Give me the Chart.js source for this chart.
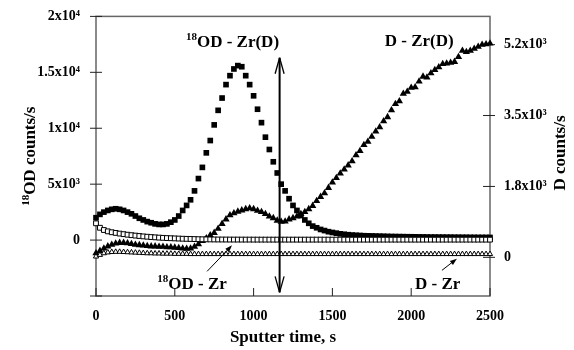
<!DOCTYPE html>
<html>
<head>
<meta charset="utf-8">
<script src="https://cdn.jsdelivr.net/npm/chart.js@4.4.1/dist/chart.umd.min.js"></script>
<style>
  body { margin: 0; background: #fff; }
  #wrap { width: 574px; height: 350px; }
</style>
</head>
<body>
<div id="wrap"><canvas id="chart"></canvas></div>
<script>
const FONT = '"Liberation Serif", "Times New Roman", serif';

// sputter time, s
const times = [
  0, 25, 50, 75, 100, 125, 150, 175, 200, 225,
  250, 275, 300, 325, 350, 375, 400, 425, 450, 475,
  500, 525, 550, 575, 600, 625, 650, 675, 700, 725,
  750, 775, 800, 825, 850, 875, 900, 925, 950, 975,
  1000, 1025, 1050, 1075, 1100, 1125, 1150, 1175, 1200, 1225,
  1250, 1275, 1300, 1325, 1350, 1375, 1400, 1425, 1450, 1475,
  1500, 1525, 1550, 1575, 1600, 1625, 1650, 1675, 1700, 1725,
  1750, 1775, 1800, 1825, 1850, 1875, 1900, 1925, 1950, 1975,
  2000, 2025, 2050, 2075, 2100, 2125, 2150, 2175, 2200, 2225,
  2250, 2275, 2300, 2325, 2350, 2375, 2400, 2425, 2450, 2475,
  2500
];

// 18OD - Zr(D), left axis (filled squares)
const odZrD = [
  2000, 2300, 2500, 2650, 2750, 2800, 2750, 2650, 2500, 2350,
  2150, 1950, 1800, 1650, 1550, 1450, 1400, 1400, 1450, 1600,
  1800, 2150, 2650, 3100, 3600, 4400, 5500, 6500, 7800, 8900,
  10300, 11600, 12700, 13900, 14700, 15300, 15600, 15500, 14700, 13900,
  12900, 11700, 10500, 9200, 8100, 7000, 6000, 5000, 4400, 3700,
  3100, 2650, 2200, 1800, 1500, 1250, 1100, 950, 850, 750,
  680, 620, 560, 520, 480, 450, 430, 410, 390, 380,
  370, 360, 350, 340, 330, 320, 315, 310, 305, 300,
  295, 290, 285, 280, 275, 270, 270, 265, 265, 260,
  260, 255, 255, 250, 250, 245, 245, 240, 240, 240,
  235
];

// 18OD - Zr, left axis (open squares)
const odZr = [
  1500, 1100, 900, 780, 700, 640, 580, 530, 480, 440,
  400, 365, 330, 300, 270, 245, 220, 200, 180, 165,
  150, 135, 120, 110, 100, 90, 80, 72, 65, 60,
  55, 52, 50, 48, 46, 45, 44, 43, 42, 42,
  40, 40, 40, 40, 40, 40, 40, 40, 40, 40,
  40, 40, 40, 40, 40, 40, 40, 40, 40, 40,
  40, 40, 40, 40, 40, 40, 40, 40, 40, 40,
  40, 40, 40, 40, 40, 40, 40, 40, 40, 40,
  40, 40, 40, 40, 40, 40, 40, 40, 40, 40,
  40, 40, 40, 40, 40, 40, 40, 40, 40, 40,
  40
];

// D - Zr(D), right axis (filled triangles)
const dZrD = [
  100, 160, 220, 270, 310, 340, 355, 355, 345, 330,
  310, 300, 290, 280, 270, 270, 260, 260, 250, 250,
  240, 230, 220, 210, 220, 260, 320, 400, 470, 540,
  600, 700, 820, 930, 1030, 1080, 1120, 1150, 1180, 1200,
  1180, 1140, 1110, 1060, 1000, 960, 900, 870, 880, 930,
  960, 1000, 1060, 1110, 1180, 1260, 1380, 1480, 1570, 1700,
  1830, 1940, 2050, 2150, 2250, 2350, 2500, 2600, 2750, 2830,
  2950, 3080, 3180, 3330, 3430, 3600, 3750, 3820, 4000, 4050,
  4150, 4160, 4300, 4420, 4400, 4500, 4580, 4650, 4730, 4740,
  4760, 4780, 4900, 5050, 5020, 5050, 5100, 5150, 5200, 5210,
  5230
];

// D - Zr, right axis (open triangles)
const dZr = [
  20, 60, 100, 120, 130, 135, 135, 130, 125, 120,
  115, 110, 105, 100, 100, 95, 95, 90, 90, 90,
  85, 85, 85, 85, 80, 80, 80, 80, 80, 80,
  80, 80, 80, 80, 80, 80, 80, 80, 80, 80,
  80, 80, 80, 80, 80, 80, 80, 80, 80, 80,
  80, 80, 80, 80, 80, 80, 80, 80, 80, 80,
  80, 80, 80, 80, 80, 80, 80, 80, 80, 80,
  80, 80, 80, 80, 80, 80, 80, 80, 80, 80,
  80, 80, 80, 80, 80, 80, 80, 80, 80, 80,
  80, 80, 80, 80, 80, 80, 80, 80, 80, 80,
  80
];

// tick labels
const leftTickValues = [0, 5000, 10000, 15000, 20000];
const leftTickLabels = ['0', '5x10³', '1x10⁴', '1.5x10⁴', '2x10⁴'];
const rightTickValues = [0, 1733.3, 3466.7, 5200];
const rightTickLabels = ['0', '1.8x10³', '3.5x10³', '5.2x10³'];

// annotations in data units (left axis for y)
const notes = {
  arrow: { x: 1165, top: 16300, bottom: -4670 },
  labels: [
    { sup: '18', text: 'OD - Zr(D)', x: 866, y: 17300 },
    { sup: '', text: 'D - Zr(D)', x: 2051, y: 17390 },
    { sup: '18', text: 'OD - Zr', x: 610, y: -4360 },
    { sup: '', text: 'D - Zr', x: 2168, y: -4360 }
  ],
  pointers: [
    { from: [705, -2795], to: [863, -473] },
    { from: [2195, -2706], to: [2290, -1661] }
  ]
};

const toPoints = ys => times.map((t, i) => ({ x: t, y: ys[i] }));
const tickFont = { family: FONT, size: 14, weight: 'bold' };

function supText(ctx, sup, main, x, y, size) {
  const supSize = Math.round(size * 0.65);
  ctx.font = `bold ${size}px ${FONT}`;
  const wm = ctx.measureText(main).width;
  ctx.font = `bold ${supSize}px ${FONT}`;
  const ws = sup ? ctx.measureText(sup).width : 0;
  const x0 = x - (wm + ws) / 2;
  ctx.textAlign = 'left';
  ctx.textBaseline = 'alphabetic';
  if (sup) ctx.fillText(sup, x0, y - size * 0.38);
  ctx.font = `bold ${size}px ${FONT}`;
  ctx.fillText(main, x0 + ws, y);
}

function line(ctx, x1, y1, x2, y2) {
  ctx.beginPath();
  ctx.moveTo(x1, y1);
  ctx.lineTo(x2, y2);
  ctx.stroke();
}

const frame = {
  id: 'frame',
  beforeDatasetsDraw(chart) {
    const { ctx, chartArea: a, scales: { x, y, y2 } } = chart;
    ctx.save();
    ctx.strokeStyle = '#666';
    ctx.lineWidth = 1.5;
    ctx.strokeRect(a.left, a.top, a.right - a.left, a.bottom - a.top);
    ctx.strokeStyle = '#222';
    ctx.lineWidth = 1;
    x.ticks.forEach(t => {
      const px = x.getPixelForValue(t.value);
      line(ctx, px, a.bottom, px, a.bottom - 8);
    });
    y.ticks.forEach(t => {
      const py = y.getPixelForValue(t.value);
      line(ctx, a.left - 6, py, a.left + 6, py);
    });
    y2.ticks.forEach(t => {
      const py = y2.getPixelForValue(t.value);
      line(ctx, a.right - 7, py, a.right + 5, py);
    });
    ctx.restore();
  },
  afterDatasetsDraw(chart) {
    const { ctx, scales: { x, y } } = chart;
    ctx.save();
    ctx.fillStyle = '#000';
    ctx.strokeStyle = '#000';

    // double-headed arrow
    const ax = x.getPixelForValue(notes.arrow.x);
    const at = y.getPixelForValue(notes.arrow.top);
    const ab = y.getPixelForValue(notes.arrow.bottom);
    ctx.lineWidth = 2;
    line(ctx, ax, at, ax, ab);
    ctx.lineWidth = 1.3;
    line(ctx, ax, at, ax - 4.5, at + 16);
    line(ctx, ax, at, ax + 4.5, at + 16);
    line(ctx, ax, ab, ax - 4.5, ab - 16);
    line(ctx, ax, ab, ax + 4.5, ab - 16);

    // pointer arrows
    ctx.lineWidth = 1;
    notes.pointers.forEach(p => {
      const x1 = x.getPixelForValue(p.from[0]), y1 = y.getPixelForValue(p.from[1]);
      const x2 = x.getPixelForValue(p.to[0]), y2 = y.getPixelForValue(p.to[1]);
      const ang = Math.atan2(y2 - y1, x2 - x1);
      line(ctx, x1, y1, x2 - 4 * Math.cos(ang), y2 - 4 * Math.sin(ang));
      ctx.beginPath();
      ctx.moveTo(x2, y2);
      ctx.lineTo(x2 - 7 * Math.cos(ang) + 2.5 * Math.sin(ang), y2 - 7 * Math.sin(ang) - 2.5 * Math.cos(ang));
      ctx.lineTo(x2 - 7 * Math.cos(ang) - 2.5 * Math.sin(ang), y2 - 7 * Math.sin(ang) + 2.5 * Math.cos(ang));
      ctx.closePath();
      ctx.fill();
    });

    // series labels
    notes.labels.forEach(l => {
      supText(ctx, l.sup, l.text, x.getPixelForValue(l.x), y.getPixelForValue(l.y), 17);
    });
    ctx.restore();
  },
  afterDraw(chart) {
    const { ctx, chartArea: a } = chart;
    ctx.save();
    ctx.fillStyle = '#000';
    // x axis title
    supText(ctx, '', 'Sputter time, s', 283, 342, 17);
    // left axis title
    ctx.translate(29, (a.top + a.bottom) / 2);
    ctx.rotate(-Math.PI / 2);
    supText(ctx, '18', 'OD counts/s', 0, 6, 17);
    ctx.restore();
    ctx.save();
    ctx.fillStyle = '#000';
    ctx.translate(559, 153);
    ctx.rotate(-Math.PI / 2);
    supText(ctx, '', 'D counts/s', 0, 6, 17);
    ctx.restore();
  }
};

Chart.defaults.font.family = FONT;
Chart.defaults.color = '#000';

new Chart(document.getElementById('chart'), {
  type: 'scatter',
  data: {
    datasets: [
      {
        label: '18OD - Zr',
        data: toPoints(odZr),
        yAxisID: 'y',
        pointStyle: 'rect',
        pointRadius: 3.4,
        borderWidth: 1,
        borderColor: '#000',
        backgroundColor: '#fff',
        clip: false
      },
      {
        label: 'D - Zr',
        data: toPoints(dZr),
        yAxisID: 'y2',
        pointStyle: 'triangle',
        pointRadius: 3,
        borderWidth: 1,
        borderColor: '#000',
        backgroundColor: '#fff',
        clip: false
      },
      {
        label: 'D - Zr(D)',
        data: toPoints(dZrD),
        yAxisID: 'y2',
        pointStyle: 'triangle',
        pointRadius: 4.2,
        borderWidth: 0,
        borderColor: '#000',
        backgroundColor: '#000',
        clip: false
      },
      {
        label: '18OD - Zr(D)',
        data: toPoints(odZrD),
        yAxisID: 'y',
        pointStyle: 'rect',
        pointRadius: 4,
        borderWidth: 0,
        borderColor: '#000',
        backgroundColor: '#000',
        clip: false
      }
    ]
  },
  options: {
    responsive: true,
    maintainAspectRatio: false,
    animation: false,
    events: [],
    layout: { padding: { top: 16, left: 0, right: 0, bottom: 0 } },
    plugins: { legend: { display: false }, tooltip: { enabled: false } },
    scales: {
      x: {
        type: 'linear',
        position: 'bottom',
        min: 0,
        max: 2500,
        grid: { display: false },
        border: { display: false },
        ticks: { stepSize: 500, padding: 4, maxRotation: 0, font: tickFont, callback: v => String(v) },
        afterFit: s => { s.height = 54; }
      },
      y: {
        position: 'left',
        min: -5000,
        max: 20000,
        grid: { display: false },
        border: { display: false },
        ticks: {
          stepSize: 5000,
          padding: 8,
          autoSkip: false,
          font: tickFont,
          callback: v => {
            const i = leftTickValues.indexOf(v);
            return i < 0 ? '' : leftTickLabels[i];
          }
        },
        afterFit: s => { s.width = 96; }
      },
      y2: {
        position: 'right',
        min: -945,
        max: 5890,
        grid: { display: false },
        border: { display: false },
        afterBuildTicks: s => { s.ticks = rightTickValues.map(v => ({ value: v })); },
        ticks: {
          padding: 6,
          autoSkip: false,
          font: tickFont,
          callback: (v, i) => rightTickLabels[i]
        },
        afterFit: s => { s.width = 84; }
      }
    }
  },
  plugins: [frame]
});
</script>
</body>
</html>
